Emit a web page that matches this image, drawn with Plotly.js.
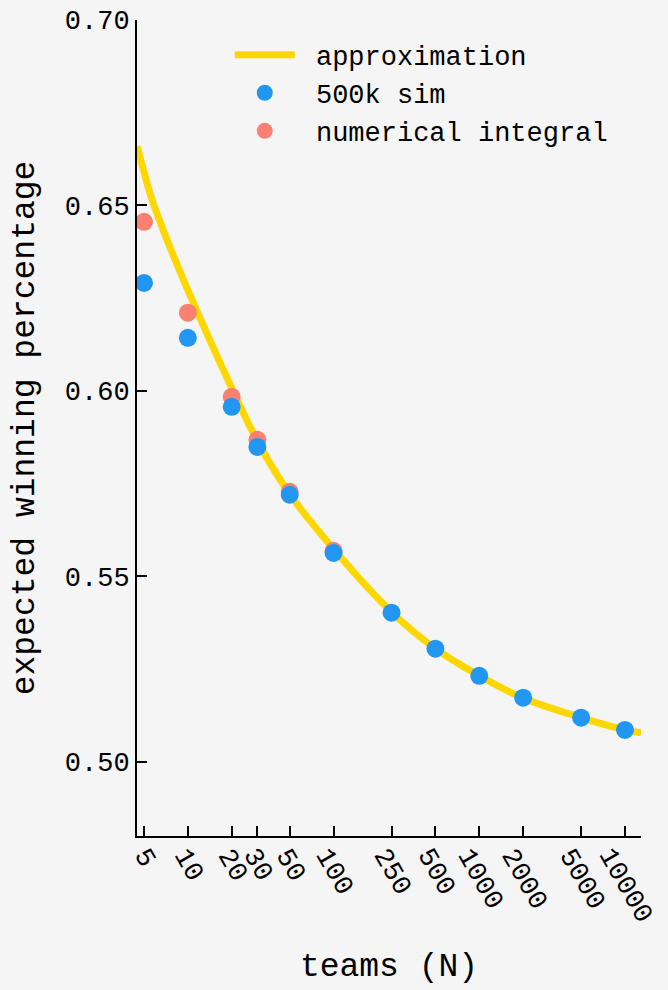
<!DOCTYPE html>
<html>
<head>
<meta charset="utf-8">
<script src="https://cdn.plot.ly/plotly-3.0.1.min.js"></script>
<style>
  html, body { margin: 0; padding: 0; background: #f5f5f5; }
  #chart { width: 668px; height: 990px; }
</style>
</head>
<body>
<div id="chart"></div>
<script>
// tick positions on the log axis
const tickTeams = [5, 10, 20, 30, 50, 100, 250, 500, 1000, 2000, 5000, 10000];
const tickLabels = tickTeams.map(String);

// approximation curve
const approxTeams = [4.48, 5, 5.65, 7.34, 10, 20, 30, 50, 100, 250, 500, 1000, 2000, 5000, 10000, 12880];
const approxPct = [0.6660, 0.6590, 0.6518, 0.6399, 0.6272, 0.6008, 0.5865, 0.5722, 0.5574,
  0.5404, 0.5305, 0.5232, 0.5172, 0.5119, 0.5086, 0.5078];

// 500k sim
const simTeams = [5, 10, 20, 30, 50, 100, 250, 500, 1000, 2000, 5000, 10000];
const simPct = [0.6291, 0.6143, 0.5957, 0.5849, 0.5720, 0.5563, 0.5402, 0.5305, 0.5232, 0.5173, 0.5119, 0.5086];

// numerical integral
const intTeams = [5, 10, 20, 30, 50, 100];
const intPct = [0.6456, 0.6211, 0.5984, 0.5868, 0.5728, 0.5569];

const font = 'Liberation Mono, Courier New, monospace';
// a bit of room between legend symbol and text
const pad = '\u00a0';

// rotated tick labels centred under their ticks (plotly anchors rotated
// tick text at its start, the reference centres the rotated box)
const tickAnnotations = tickTeams.map((t, i) => ({
  x: Math.log10(t),
  xref: 'x',
  y: 0,
  yref: 'paper',
  yshift: -5,
  xanchor: 'center',
  yanchor: 'top',
  text: tickLabels[i],
  textangle: 60,
  showarrow: false,
  font: {family: font, size: 27, color: '#000'},
}));

Plotly.newPlot('chart', [{
  type: 'scatter',
  mode: 'lines',
  x: approxTeams,
  y: approxPct,
  name: pad + 'approximation',
  line: {color: '#ffd700', width: 7, shape: 'spline', smoothing: 1},
  legendrank: 1,
}, {
  type: 'scatter',
  mode: 'markers',
  x: intTeams,
  y: intPct,
  name: pad + 'numerical integral',
  marker: {color: '#fa8072', size: 18},
  legendrank: 3,
}, {
  type: 'scatter',
  mode: 'markers',
  x: simTeams,
  y: simPct,
  name: pad + '500k sim',
  marker: {color: '#2196f3', size: 18},
  legendrank: 2,
}], {
  width: 668,
  height: 990,
  paper_bgcolor: '#f5f5f5',
  plot_bgcolor: '#f5f5f5',
  margin: {l: 137, r: 27, t: 20, b: 154},
  font: {family: font, size: 27, color: '#000'},
  showlegend: true,
  legend: {
    x: 0.184, y: 0.987, xanchor: 'left', yanchor: 'top',
    bgcolor: 'rgba(0,0,0,0)',
    font: {family: font, size: 27},
    itemwidth: 60,
  },
  annotations: tickAnnotations,
  xaxis: {
    type: 'log',
    range: [0.651, 4.11],
    tickmode: 'array',
    tickvals: tickTeams,
    showticklabels: false,
    ticks: 'inside',
    ticklen: 10,
    tickwidth: 2,
    tickcolor: '#000',
    showline: true,
    linewidth: 2,
    linecolor: '#000',
    showgrid: false,
    zeroline: false,
    title: {text: 'teams (N)', font: {family: font, size: 33}, standoff: 116},
  },
  yaxis: {
    range: [0.48, 0.70],
    tick0: 0.5,
    dtick: 0.05,
    tickformat: '.2f',
    ticks: 'inside',
    ticklen: 10,
    tickwidth: 2,
    tickcolor: '#000',
    showline: true,
    linewidth: 2,
    linecolor: '#000',
    showgrid: false,
    zeroline: false,
    tickfont: {family: font, size: 27},
    title: {text: 'expected winning percentage', font: {family: font, size: 33}, standoff: 20},
  },
}, {displayModeBar: false, staticPlot: true});
</script>
</body>
</html>
